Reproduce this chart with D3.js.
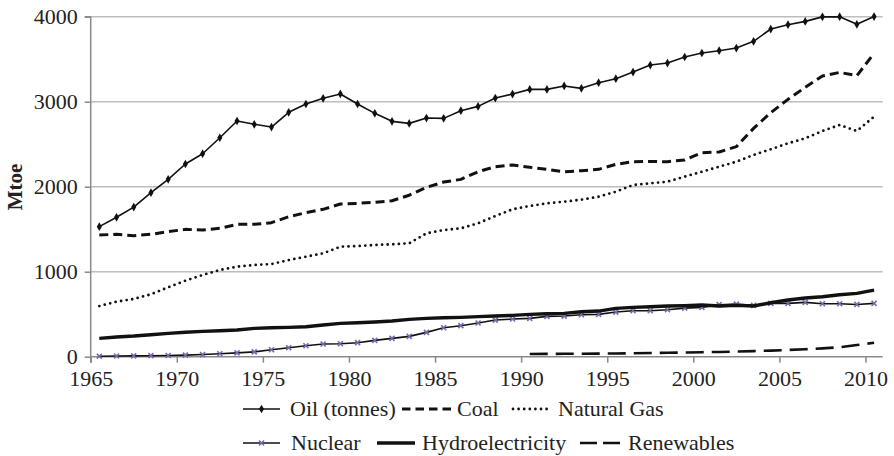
<!DOCTYPE html>
<html>
<head>
<meta charset="utf-8">
<script src="https://cdn.jsdelivr.net/npm/d3@7"></script>
<style>
  html, body { margin: 0; padding: 0; background: #fff; }
  svg { display: block; }
</style>
</head>
<body>
<svg id="chart" width="894" height="456"></svg>
<script>
// World primary energy consumption by source, Mtoe
const years = d3.range(1965, 2011);
const renewYears = d3.range(1990, 2011);

const oil = [1530, 1640, 1760, 1929, 2087, 2267, 2388, 2576, 2773, 2734,
             2702, 2875, 2973, 3040, 3091, 2973, 2863, 2769, 2745, 2808,
             2804, 2894, 2945, 3043, 3090, 3145, 3145, 3185, 3157, 3224,
             3271, 3349, 3431, 3455, 3526, 3573, 3600, 3631, 3710, 3855,
             3906, 3945, 3998, 4000, 3910, 4002];
const coal = [1432, 1440, 1424, 1440, 1471, 1498, 1490, 1510, 1557, 1557,
              1577, 1647, 1694, 1734, 1796, 1804, 1816, 1835, 1900, 1992,
              2055, 2086, 2176, 2235, 2255, 2228, 2204, 2176, 2188, 2204,
              2263, 2294, 2296, 2294, 2314, 2400, 2408, 2471, 2686, 2871,
              3028, 3169, 3302, 3345, 3306, 3569];
const gas = [596, 647, 679, 734, 816, 894, 961, 1020, 1059, 1079,
             1090, 1137, 1176, 1216, 1294, 1302, 1314, 1322, 1334, 1451,
             1490, 1510, 1569, 1655, 1734, 1773, 1804, 1824, 1847, 1882,
             1941, 2020, 2040, 2059, 2118, 2176, 2235, 2294, 2373, 2440,
             2510, 2569, 2655, 2726, 2655, 2824];
const nuclear = [6, 8, 10, 12, 14, 18, 25, 35, 45, 57,
                 82, 106, 129, 149, 153, 165, 192, 216, 239, 286,
                 341, 365, 396, 431, 443, 451, 474, 478, 494, 498,
                 525, 541, 541, 553, 572, 580, 612, 619, 604, 627,
                 627, 639, 623, 623, 615, 627];
const hydro = [216, 232, 243, 259, 275, 287, 298, 306, 314, 333,
               341, 345, 353, 373, 392, 400, 408, 420, 439, 451,
               459, 463, 471, 478, 486, 498, 506, 510, 529, 537,
               569, 580, 588, 596, 600, 608, 596, 604, 596, 635,
               667, 690, 706, 729, 745, 784];
const renewables = [31, 33, 34, 35, 36, 38, 40, 43, 46, 50,
                    53, 56, 61, 66, 72, 79, 87, 98, 112, 137, 165];

const yTicks = [0, 1000, 2000, 3000, 4000];
const xTicks = [1965, 1970, 1975, 1980, 1985, 1990, 1995, 2000, 2005, 2010];

const series = [
  { name: "Oil (tonnes)", x: years, y: oil, style: "oil" },
  { name: "Coal", x: years, y: coal, style: "coal" },
  { name: "Natural Gas", x: years, y: gas, style: "gas" },
  { name: "Nuclear", x: years, y: nuclear, style: "nuclear" },
  { name: "Hydroelectricity", x: years, y: hydro, style: "hydro" },
  { name: "Renewables", x: renewYears, y: renewables, style: "renew" }
];

const styles = {
  oil:     { width: 1.6, dash: null, cap: "butt" },
  coal:    { width: 3,   dash: "9 5", cap: "butt" },
  gas:     { width: 2.8, dash: "0 5.6", cap: "round" },
  nuclear: { width: 1.6, dash: null, cap: "butt" },
  hydro:   { width: 3.4, dash: null, cap: "butt" },
  renew:   { width: 2.6, dash: "18 8", cap: "butt" }
};

const FONT = "'Liberation Serif', 'Times New Roman', Tinos, serif";
const svg = d3.select("#chart");
const plotLeft = 90.7, plotRight = 882.7, plotTop = 16.7, plotBottom = 356.7;
const fontSize = 22;

const x = d3.scaleLinear().domain([1965, 2011]).range([plotLeft, plotRight]);
const y = d3.scaleLinear().domain([0, 4000]).range([plotBottom, plotTop]);

// Horizontal gridlines
svg.append("g")
  .selectAll("line")
  .data(yTicks.filter(t => t > 0))
  .join("line")
  .attr("x1", plotLeft).attr("x2", plotRight)
  .attr("y1", d => y(d)).attr("y2", d => y(d))
  .attr("stroke", "#bdbdbd").attr("stroke-width", 1.5);

// Y axis
const yAxis = svg.append("g")
  .attr("transform", `translate(${plotLeft},0)`)
  .call(d3.axisLeft(y).tickValues(yTicks).tickSize(6).tickPadding(7).tickFormat(d3.format("d")));
yAxis.select(".domain").attr("stroke", "#8a8a8a").attr("stroke-width", 1.5)
  .attr("d", `M-6,${plotTop}H0V${plotBottom}`);
yAxis.selectAll(".tick line").attr("stroke", "#8a8a8a").attr("stroke-width", 1.5);
yAxis.selectAll(".tick text")
  .style("font-family", FONT).style("font-size", fontSize + "px").attr("fill", "#222");

// X axis
const xAxis = svg.append("g")
  .attr("transform", `translate(0,${plotBottom})`)
  .call(d3.axisBottom(x).tickValues(xTicks).tickSize(6).tickPadding(8).tickFormat(d3.format("d")));
xAxis.select(".domain").attr("stroke", "#8a8a8a").attr("stroke-width", 1.5)
  .attr("d", `M${plotLeft},6V0H${plotRight}`);
xAxis.selectAll(".tick line").attr("stroke", "#8a8a8a").attr("stroke-width", 1.5);
xAxis.selectAll(".tick text")
  .style("font-family", FONT).style("font-size", fontSize + "px").attr("fill", "#222");

// Y axis title
svg.append("text")
  .attr("transform", `translate(22,187) rotate(-90)`)
  .attr("text-anchor", "middle")
  .style("font-family", FONT)
  .style("font-weight", "bold")
  .style("font-size", "21px")
  .attr("fill", "#222")
  .text("Mtoe");

// Lines
const plot = svg.append("g");
series.forEach(s => {
  const st = styles[s.style];
  const pts = s.x.map((yr, i) => [yr + 0.5, s.y[i]]);
  const line = d3.line().x(d => x(d[0])).y(d => y(d[1]));
  plot.append("path")
    .attr("d", line(pts))
    .attr("fill", "none")
    .attr("stroke", "#111")
    .attr("stroke-width", st.width)
    .attr("stroke-linecap", st.cap)
    .attr("stroke-linejoin", "round")
    .attr("stroke-dasharray", st.dash);
  if (s.style === "oil") {
    plot.append("g").selectAll("path")
      .data(pts).join("path")
      .attr("transform", d => `translate(${x(d[0])},${y(d[1])})`)
      .attr("d", d3.symbol(d3.symbolDiamond, 22)())
      .attr("fill", "#111");
  }
  if (s.style === "nuclear") {
    plot.append("g").selectAll("path")
      .data(pts).join("path")
      .attr("transform", d => `translate(${x(d[0])},${y(d[1])})`)
      .attr("d", d3.symbol(d3.symbolTimes, 18)())
      .attr("fill", "none")
      .attr("stroke", "#7b68ab")
      .attr("stroke-width", 1.6);
  }
});

// Legend
const legendItems = [
  { s: "oil",     label: "Oil (tonnes)",     x0: 243, x1: 280, tx: 290, row: 0 },
  { s: "coal",    label: "Coal",             x0: 402, x1: 452, tx: 457, row: 0 },
  { s: "gas",     label: "Natural Gas",      x0: 513, x1: 552, tx: 558, row: 0 },
  { s: "nuclear", label: "Nuclear",          x0: 243, x1: 280, tx: 291, row: 1 },
  { s: "hydro",   label: "Hydroelectricity", x0: 377, x1: 415, tx: 422, row: 1 },
  { s: "renew",   label: "Renewables",       x0: 580, x1: 620, tx: 628, row: 1 }
];
const rowY = [409, 443];
const legend = svg.append("g");
legendItems.forEach(it => {
  const st = styles[it.s];
  const cy = rowY[it.row];
  const legendDash = it.s === "coal" ? "8.5 5" : it.s === "renew" ? "17 6" : st.dash;
  legend.append("line")
    .attr("x1", it.x0).attr("x2", it.x1).attr("y1", cy).attr("y2", cy)
    .attr("stroke", "#111")
    .attr("stroke-width", st.width)
    .attr("stroke-linecap", st.cap)
    .attr("stroke-dasharray", legendDash);
  const mx = (it.x0 + it.x1) / 2;
  if (it.s === "oil") {
    legend.append("path")
      .attr("transform", `translate(${mx},${cy})`)
      .attr("d", d3.symbol(d3.symbolDiamond, 22)())
      .attr("fill", "#111");
  }
  if (it.s === "nuclear") {
    legend.append("path")
      .attr("transform", `translate(${mx},${cy})`)
      .attr("d", d3.symbol(d3.symbolTimes, 18)())
      .attr("fill", "none").attr("stroke", "#7b68ab").attr("stroke-width", 1.6);
  }
  legend.append("text")
    .attr("x", it.tx).attr("y", cy)
    .attr("dy", "0.33em")
    .style("font-family", FONT)
    .style("font-size", fontSize + "px")
    .attr("fill", "#222")
    .text(it.label);
});
</script>
</body>
</html>
